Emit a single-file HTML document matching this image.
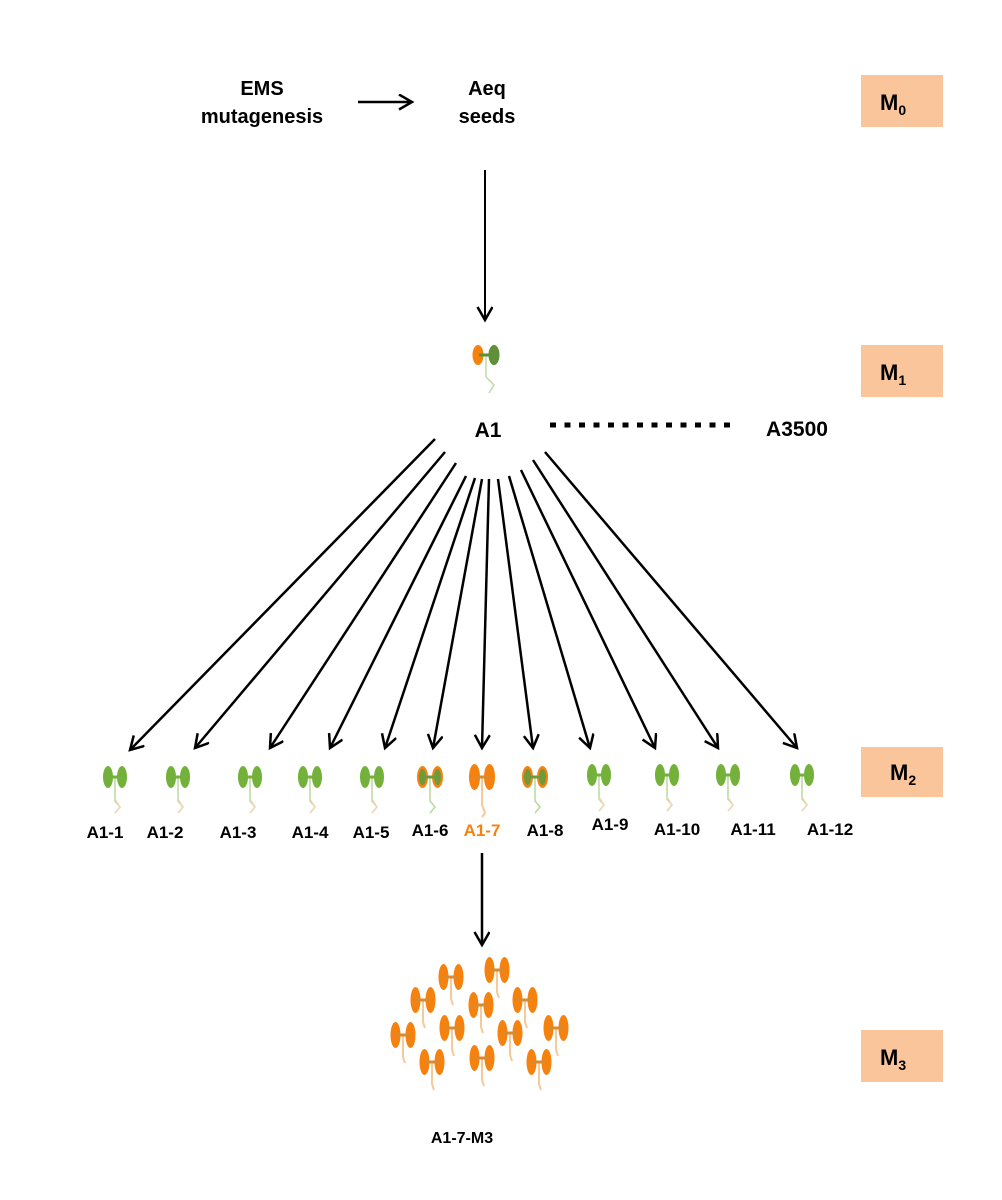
<!DOCTYPE html>
<html><head><meta charset="utf-8"><style>
html,body{margin:0;padding:0;background:#fff;}
svg{display:block;font-family:"Liberation Sans",Arial,sans-serif;font-weight:bold;}
</style></head><body>
<svg width="1002" height="1200" viewBox="0 0 1002 1200" xmlns="http://www.w3.org/2000/svg">
<defs>
<marker id="ah" markerWidth="18" markerHeight="18" refX="14" refY="8" orient="auto" markerUnits="userSpaceOnUse">
<path d="M1,0.5 L14,8 L1,15.5" fill="none" stroke="#000" stroke-width="2.5"/>
</marker>
<g id="sg">
<path d="M0,0 L0,24 L5,30 L0,36" fill="none" stroke="#b9d8a0" stroke-width="1.5"/>
<path d="M0,22 L5,30 L0,36" fill="none" stroke="#f3d6b8" stroke-width="1.5"/>
<ellipse cx="-7" cy="0" rx="5" ry="11" fill="#74b13a"/>
<ellipse cx="7" cy="0" rx="5" ry="11" fill="#74b13a"/>
<rect x="-7" y="-1.5" width="14" height="3" fill="#74b13a"/>
</g>
<g id="so">
<path d="M0,0 L0,22 L2,28" fill="none" stroke="#f5c99a" stroke-width="2"/>
<ellipse cx="-7.5" cy="0" rx="5" ry="13" fill="#f5820f"/>
<ellipse cx="7.5" cy="0" rx="5" ry="13" fill="#f5820f"/>
<rect x="-7" y="-1.5" width="14" height="3" fill="#d88a30"/>
</g>
<g id="so2">
<path d="M0,0 L0,28 L3,36 L0,40" fill="none" stroke="#f5c99a" stroke-width="2"/>
<ellipse cx="-7.5" cy="0" rx="5.5" ry="13" fill="#f5820f"/>
<ellipse cx="7.5" cy="0" rx="5.5" ry="13" fill="#f5820f"/>
<rect x="-7" y="-1.5" width="14" height="3" fill="#d88a30"/>
</g>
<g id="sm">
<path d="M0,0 L0,24 L5,30 L0,36" fill="none" stroke="#b9d8a0" stroke-width="1.5"/>
<ellipse cx="-7.5" cy="0" rx="5.5" ry="11" fill="#f5820f"/>
<ellipse cx="7.5" cy="0" rx="5.5" ry="11" fill="#f5820f"/>
<ellipse cx="-7.5" cy="0" rx="3.5" ry="8" fill="#6f9a3c"/>
<ellipse cx="7.5" cy="0" rx="3.5" ry="8" fill="#6f9a3c"/>
<rect x="-7" y="-1.5" width="14" height="3" fill="#6f9a3c"/>
</g>
</defs>

<text x="262" y="95" font-size="20" text-anchor="middle">EMS</text>
<text x="262" y="123" font-size="20" text-anchor="middle">mutagenesis</text>
<text x="487" y="95" font-size="20" text-anchor="middle">Aeq</text>
<text x="487" y="123" font-size="20" text-anchor="middle">seeds</text>
<line x1="358" y1="102" x2="412" y2="102" stroke="#000" stroke-width="2.5" marker-end="url(#ah)"/>
<line x1="485" y1="170" x2="485" y2="320" stroke="#000" stroke-width="2" marker-end="url(#ah)"/>

<g transform="translate(486,355)">
<path d="M0,0 L0,22 L8,30 L3,38" fill="none" stroke="#c2d9a8" stroke-width="1.5"/>
<ellipse cx="-8" cy="0" rx="5.5" ry="10" fill="#f5820f"/>
<ellipse cx="8" cy="0" rx="5.5" ry="10" fill="#5f8f38"/>
<rect x="-7" y="-1.5" width="14" height="3" fill="#5f8f38"/>
</g>
<text x="488" y="437" font-size="21" text-anchor="middle">A1</text>
<line x1="550" y1="425" x2="735" y2="425" stroke="#000" stroke-width="5" stroke-dasharray="6,8.5"/>
<text x="797" y="436" font-size="21" text-anchor="middle">A3500</text>

<g stroke="#000" stroke-width="2.5" marker-end="url(#ah)">
<line x1="435" y1="439" x2="130" y2="750"/>
<line x1="445" y1="452" x2="195" y2="748"/>
<line x1="456" y1="463" x2="270" y2="748"/>
<line x1="466" y1="476" x2="330" y2="748"/>
<line x1="475" y1="478" x2="385" y2="748"/>
<line x1="482" y1="479" x2="433" y2="748"/>
<line x1="489" y1="479" x2="482" y2="748"/>
<line x1="498" y1="479" x2="533" y2="748"/>
<line x1="509" y1="476" x2="590" y2="748"/>
<line x1="521" y1="470" x2="655" y2="748"/>
<line x1="533" y1="460" x2="718" y2="748"/>
<line x1="545" y1="452" x2="797" y2="748"/>
</g>

<use href="#sg" x="115" y="777"/>
<use href="#sg" x="178" y="777"/>
<use href="#sg" x="250" y="777"/>
<use href="#sg" x="310" y="777"/>
<use href="#sg" x="372" y="777"/>
<use href="#sm" x="430" y="777"/>
<use href="#so2" x="482" y="777"/>
<use href="#sm" x="535" y="777"/>
<use href="#sg" x="599" y="775"/>
<use href="#sg" x="667" y="775"/>
<use href="#sg" x="728" y="775"/>
<use href="#sg" x="802" y="775"/>

<g font-size="17" text-anchor="middle">
<text x="105" y="838">A1-1</text>
<text x="165" y="838">A1-2</text>
<text x="238" y="838">A1-3</text>
<text x="310" y="838">A1-4</text>
<text x="371" y="838">A1-5</text>
<text x="430" y="836">A1-6</text>
<text x="482" y="836" fill="#f5820f">A1-7</text>
<text x="545" y="836">A1-8</text>
<text x="610" y="830">A1-9</text>
<text x="677" y="835">A1-10</text>
<text x="753" y="835">A1-11</text>
<text x="830" y="835">A1-12</text>
</g>

<line x1="482" y1="853" x2="482" y2="945" stroke="#000" stroke-width="2.5" marker-end="url(#ah)"/>

<use href="#so" x="451" y="977"/>
<use href="#so" x="497" y="970"/>
<use href="#so" x="423" y="1000"/>
<use href="#so" x="481" y="1005"/>
<use href="#so" x="525" y="1000"/>
<use href="#so" x="403" y="1035"/>
<use href="#so" x="452" y="1028"/>
<use href="#so" x="510" y="1033"/>
<use href="#so" x="556" y="1028"/>
<use href="#so" x="432" y="1062"/>
<use href="#so" x="482" y="1058"/>
<use href="#so" x="539" y="1062"/>
<text x="462" y="1143" font-size="16" text-anchor="middle">A1-7-M3</text>

<g fill="#fbc59c">
<rect x="861" y="75" width="82" height="52"/>
<rect x="861" y="345" width="82" height="52"/>
<rect x="861" y="747" width="82" height="50"/>
<rect x="861" y="1030" width="82" height="52"/>
</g>
<g font-size="22">
<text x="880" y="110">M<tspan font-size="14" dy="5">0</tspan></text>
<text x="880" y="380">M<tspan font-size="14" dy="5">1</tspan></text>
<text x="890" y="780">M<tspan font-size="14" dy="5">2</tspan></text>
<text x="880" y="1065">M<tspan font-size="14" dy="5">3</tspan></text>
</g>
</svg>
</body></html>
